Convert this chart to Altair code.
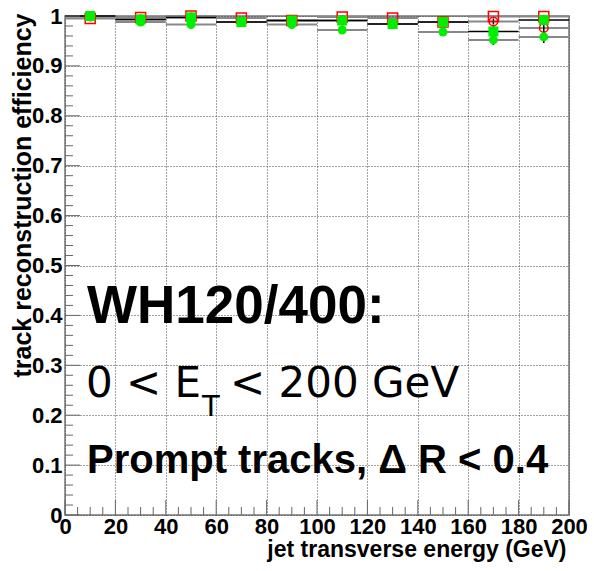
import altair as alt
import pandas as pd

# ---- data ----
bin_lo = [0, 20, 40, 60, 80, 100, 120, 140, 160, 180]
bin_hi = [20, 40, 60, 80, 100, 120, 140, 160, 180, 200]
bin_center = [10, 30, 50, 70, 90, 110, 130, 150, 170, 190]

red_square = [0.995, 0.997, 1.000, 0.996, 0.991, 0.998, 0.996, 0.988, 0.999, 0.999]
red_circle = [0.999, 0.993, 0.997, 0.988, 0.991, 0.991, 0.984, 0.988, 0.989, 0.976]
red_circle_err = [0, 0, 0, 0, 0, 0, 0, 0, 0.006, 0.010]
green_square = [1.000, 0.993, 0.997, 0.988, 0.991, 0.991, 0.984, 0.988, 0.969, 0.992]
green_square_err = [0, 0, 0, 0, 0, 0, 0, 0, 0.012, 0]
green_circle = [0.999, 0.988, 0.983, 0.988, 0.983, 0.972, 0.984, 0.968, 0.952, 0.958]
green_circle_err = [0, 0, 0, 0, 0, 0, 0, 0, 0.010, 0.012]

x_major = [0, 20, 40, 60, 80, 100, 120, 140, 160, 180, 200]
x_minor = [v for v in range(0, 201, 5) if v % 20 != 0]
y_major = [round(i / 10, 1) for i in range(0, 11)]
y_minor = [round(i / 50, 2) for i in range(0, 51) if i % 5 != 0]


def frame(vals, errs):
    return pd.DataFrame({
        "x": bin_center, "lo": bin_lo, "hi": bin_hi, "eff": vals,
        "elo": [v - e for v, e in zip(vals, errs)],
        "ehi": [v + e for v, e in zip(vals, errs)],
    })


zeros = [0] * 10
d_rs = frame(red_square, zeros)
d_rc = frame(red_circle, red_circle_err)
d_gs = frame(green_square, green_square_err)
d_gc = frame(green_circle, green_circle_err)

W, H = 504, 499
FONT = "Liberation Sans"

xscale = alt.Scale(domain=[0, 200], nice=False, zero=False)
yscale = alt.Scale(domain=[0, 1], nice=False, zero=False)
xaxis = alt.Axis(
    values=x_major, title="jet transverse energy (GeV)", grid=True,
    ticks=False, domain=False, labelFontSize=22, labelFontWeight="bold",
    labelFont=FONT, labelPadding=1, labelColor="black", labelOverlap=False,
    labelBound=False, labelFlush=False,
    titleFont=FONT, titleFontSize=23, titleFontWeight="bold", titleColor="black",
    titleAnchor="end", titleAlign="right", titleBaseline="alphabetic",
    titleX=W - 3, titleY=41,
    gridDash=[1, 2], gridColor="#444", gridWidth=1,
)
yaxis = alt.Axis(
    values=y_major, format="~g", title="track reconstruction efficiency", grid=True,
    ticks=False, domain=False, labelFontSize=22, labelFontWeight="bold",
    labelFont=FONT, labelPadding=3, labelColor="black", labelOverlap=False,
    labelBound=False, labelFlush=False,
    titleFont=FONT, titleFontSize=25, titleFontWeight="bold", titleColor="black",
    titleAnchor="end", titleAlign="right", titleBaseline="alphabetic",
    titleAngle=270, titleX=-35, titleY=-3,
    gridDash=[1, 2], gridColor="#444", gridWidth=1,
)


def X(field):
    return alt.X(f"{field}:Q", scale=xscale, axis=xaxis)


def Y(field):
    return alt.Y(f"{field}:Q", scale=yscale, axis=yaxis)


layers = []

# histogram step lines
for d, col, w in [(d_rs, "#888888", 2), (d_rc, "#888888", 2), (d_gc, "#888888", 2), (d_gs, "#000000", 1.5)]:
    layers.append(alt.Chart(d).mark_rule(color=col, strokeWidth=w).encode(
        x=X("lo"), x2="hi", y=Y("eff")))

# error bars
for d in [d_rc, d_gs, d_gc]:
    layers.append(alt.Chart(d).mark_rule(color="black", strokeWidth=1.5).encode(
        x=X("x"), y=Y("elo"), y2="ehi"))

# markers
layers.append(alt.Chart(d_rs).mark_point(shape="square", filled=False, color="#ff0000",
                                         size=100, strokeWidth=1.5, opacity=1).encode(x=X("x"), y=Y("eff")))
layers.append(alt.Chart(d_rc).mark_point(shape="circle", filled=False, color="#ff0000",
                                         size=75, strokeWidth=1.5, opacity=1).encode(x=X("x"), y=Y("eff")))
layers.append(alt.Chart(d_gs).mark_point(shape="square", filled=True, color="#00ee00",
                                         size=100, opacity=1).encode(x=X("x"), y=Y("eff")))
layers.append(alt.Chart(d_gc).mark_circle(color="#00ee00", size=80, opacity=1).encode(
    x=X("x"), y=Y("eff")))

# inner ticks (ROOT style)
d_xmaj = pd.DataFrame({"v": x_major})
d_xmin = pd.DataFrame({"v": x_minor})
d_ymaj = pd.DataFrame({"v": y_major})
d_ymin = pd.DataFrame({"v": y_minor})
layers.append(alt.Chart(d_xmaj).mark_rule(color="#666", strokeWidth=1).encode(
    x=X("v"), y=alt.value(H), y2=alt.value(H - 15)))
layers.append(alt.Chart(d_xmin).mark_rule(color="#666", strokeWidth=1).encode(
    x=X("v"), y=alt.value(H), y2=alt.value(H - 8)))
layers.append(alt.Chart(d_ymaj).mark_rule(color="#666", strokeWidth=1).encode(
    y=Y("v"), x=alt.value(0), x2=alt.value(15)))
layers.append(alt.Chart(d_ymin).mark_rule(color="#666", strokeWidth=1).encode(
    y=Y("v"), x=alt.value(0), x2=alt.value(8)))

# annotations
one = pd.DataFrame({"a": [0]})


def label(txt, x, y, size, weight="normal", font=FONT):
    return alt.Chart(one).mark_text(
        text=txt, align="left", baseline="alphabetic", font=font,
        fontSize=size, fontWeight=weight, color="black").encode(
        x=alt.value(x), y=alt.value(y))


layers.append(label("WH120/400:", 22, 307, 53, "bold"))
layers.append(label("0 < E", 21, 381, 42, font="DejaVu Sans"))
layers.append(label("T", 137, 400, 29, font="DejaVu Sans"))
layers.append(label("< 200 GeV", 165, 381, 42, font="DejaVu Sans"))
layers.append(label("Prompt tracks, \u0394 R < 0.4", 22, 457, 40, "bold"))

chart = alt.layer(*layers).properties(
    width=W, height=H,
    autosize=alt.AutoSizeParams(type="none"),
    padding={"left": 65, "top": 16, "right": 25, "bottom": 56},
    background="white",
).configure_view(stroke="#777777", strokeWidth=1.5)

chart.save("out.html", embed_options={"renderer": "svg", "actions": False})
